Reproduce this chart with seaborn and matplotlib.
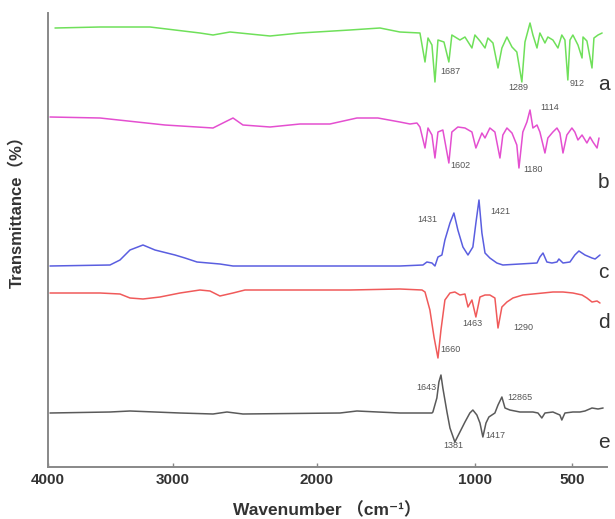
import matplotlib
matplotlib.use('Agg')
import matplotlib.pyplot as plt
import numpy as np
import pandas as pd
import seaborn as sns

# FTIR spectra, stacked (transmittance in arbitrary offset units)
wn_a = [3944, 3584, 3184, 2813, 2722, 2604, 2466, 2326, 2118, 1791, 1601, 1475, 1348, 1316, 1297,
        1272, 1253, 1234, 1196, 1165, 1146, 1095, 1063, 1019, 1000, 974, 948, 933, 907, 881,
        861, 835, 809, 784, 758, 742, 716, 701, 680, 665, 639, 624, 598, 572, 552,
        536, 521, 510, 495, 469, 448, 443, 423, 397, 387, 366, 345]
tr_a = [439, 440, 440, 434, 432, 435, 433, 431, 434, 437, 439, 435, 434, 405, 429,
        422, 385, 427, 425, 405, 432, 427, 430, 419, 432, 426, 419, 429, 424, 399,
        419, 430, 420, 415, 385, 425, 444, 432, 419, 434, 424, 430, 427, 419, 432,
        427, 387, 427, 432, 422, 409, 430, 426, 399, 429, 432, 434]

wn_b = [3984, 3584, 3064, 2722, 2639, 2583, 2514, 2326, 2118, 1918, 1747, 1614, 1475, 1411, 1367,
        1348, 1316, 1297, 1272, 1253, 1234, 1203, 1165, 1146, 1108, 1063, 1019, 995, 964, 948,
        923, 897, 871, 856, 835, 809, 784, 773, 753, 732, 716, 701, 680, 665, 639,
        624, 598, 577, 562, 546, 526, 500, 485, 469, 448, 423, 407, 392, 371, 361]
tr_b = [350, 349, 342, 339, 345, 349, 342, 340, 343, 343, 349, 349, 345, 343, 344,
        340, 319, 339, 332, 309, 335, 337, 304, 335, 340, 339, 335, 319, 334, 329,
        339, 335, 309, 332, 339, 334, 322, 299, 335, 345, 357, 339, 342, 335, 314,
        329, 335, 339, 334, 314, 332, 339, 335, 327, 332, 324, 330, 325, 319, 329]

wn_c = [3984, 3504, 3424, 3344, 3240, 3144, 3080, 2986, 2917, 2833, 2674, 2583, 2118, 1791, 1475,
        1329, 1304, 1272, 1253, 1234, 1209, 1190, 1158, 1133, 1108, 1076, 1044, 1013, 995, 979,
        964, 948, 923, 887, 856, 680, 665, 649, 629, 603, 577, 567, 546, 510, 485,
        464, 433, 397, 381, 356]
tr_c = [201, 202, 207, 217, 222, 217, 215, 212, 209, 205, 203, 201, 201, 201, 201,
        202, 205, 204, 201, 210, 212, 227, 244, 254, 237, 220, 212, 220, 244, 267,
        234, 214, 209, 204, 202, 204, 210, 214, 205, 204, 205, 208, 204, 205, 212,
        216, 212, 209, 208, 212]

wn_d = [3984, 3584, 3424, 3344, 3240, 3104, 2951, 2813, 2743, 2674, 2583, 2500, 2118, 1791, 1475,
        1335, 1316, 1285, 1259, 1234, 1215, 1190, 1158, 1127, 1095, 1063, 1044, 1019, 995, 974,
        948, 923, 897, 881, 861, 835, 804, 753, 701, 649, 598, 546, 495, 448, 423,
        397, 371, 356]
tr_d = [174, 174, 173, 169, 168, 170, 174, 177, 176, 171, 174, 177, 177, 177, 178,
        177, 175, 157, 130, 109, 137, 167, 174, 175, 172, 173, 160, 167, 150, 170,
        172, 172, 169, 139, 160, 165, 169, 172, 173, 174, 175, 175, 174, 172, 169,
        165, 166, 164]

wn_e = [3984, 3504, 3344, 2951, 2722, 2625, 2514, 1854, 1747, 1614, 1475, 1272, 1266, 1241, 1228,
        1215, 1203, 1177, 1158, 1127, 1095, 1063, 1032, 1013, 990, 974, 959, 943, 928, 897,
        881, 861, 845, 820, 768, 701, 675, 655, 639, 598, 562, 552, 536, 495, 459,
        433, 397, 366, 340]
tr_e = [54, 55, 56, 54, 53, 55, 53, 54, 56, 55, 54, 54, 55, 69, 85,
        92, 79, 55, 39, 25, 35, 45, 54, 57, 52, 44, 30, 44, 50, 54,
        62, 70, 59, 57, 55, 55, 54, 49, 54, 55, 52, 47, 54, 55, 55,
        56, 59, 58, 59]

samples = ['a', 'b', 'c', 'd', 'e']
colors = {'a': '#6fe05a', 'b': '#e44fd0', 'c': '#5a5ee0', 'd': '#f05a5a', 'e': '#5a5a5a'}
letter_y = [382, 285, 195, 144, 24]

# peak annotations: text, wavenumber, height, alignment
peak_text = ['1687', '1289', '912', '1602', '1180', '1114', '1431', '1421',
             '1660', '1463', '1290', '1643', '1381', '1417', '12865']
peak_wn = [1222, 778, 510, 1158, 753, 665, 1367, 923, 1222, 1082, 804, 1241, 1203, 948, 835]
peak_y = [395, 380, 384, 302, 297, 360, 247, 255, 117, 144, 139, 79, 21, 32, 69]
peak_ha = ['left', 'center', 'left', 'left', 'left', 'left', 'left', 'left',
           'left', 'left', 'left', 'right', 'left', 'left', 'left']

frames = []
for s, w, t in zip(samples, [wn_a, wn_b, wn_c, wn_d, wn_e], [tr_a, tr_b, tr_c, tr_d, tr_e]):
    frames.append(pd.DataFrame({'wn': w, 'tr': t, 'sample': s}))
df = pd.concat(frames, ignore_index=True)

# the original axis is stretched unevenly, so use a piecewise scale
scale_wn = [300, 500, 1000, 2000, 3000, 4000]
scale_pos = [611, 572, 475, 317, 173, 48]

def fwd(w):
    return -np.interp(w, scale_wn, scale_pos)

def inv(q):
    return np.interp(-np.asarray(q), scale_pos[::-1], scale_wn[::-1])

sns.set_style('ticks')
fig = plt.figure(figsize=(6.15, 5.19), dpi=100)
ax = fig.add_axes([48 / 615, 52 / 519, 559 / 615, 454 / 519])

sns.lineplot(data=df, x='wn', y='tr', hue='sample', palette=colors, estimator=None,
             sort=False, linewidth=1.1, legend=False, ax=ax)

ax.set_xscale('function', functions=(fwd, inv))
ax.set_xlim(4000, 320)
ax.set_ylim(0, 454)
ax.set_xticks([4000, 3000, 2000, 1000, 500])
ax.set_xticklabels(['4000', '3000', '2000', '1000', '500'])
ax.set_yticks([])
ax.minorticks_off()

fam = ['Liberation Sans', 'Noto Sans CJK SC', 'DejaVu Sans']
for lab in ax.get_xticklabels():
    lab.set_family(fam)
    lab.set_fontweight('bold')
    lab.set_fontsize(11)
    lab.set_color('#333333')
ax.tick_params(axis='x', direction='in', length=3, width=1, color='#888888', pad=4)

ax.set_xlabel('Wavenumber （cm⁻¹）', family=fam, fontweight='bold', fontsize=12.5,
              color='#333333', labelpad=11)
ax.set_ylabel('Transmittance（%）', family=fam, fontweight='bold', fontsize=12,
              color='#333333')
ax.yaxis.set_label_coords(-0.04, 0.57)

sns.despine(ax=ax)
for side in ['left', 'bottom']:
    ax.spines[side].set_color('#888888')
    ax.spines[side].set_linewidth(1.4)

for s, yv in zip(samples, letter_y):
    ax.text(338, yv, s, family=fam, fontsize=15, color='#333333', ha='center', va='center')

for txt, w, yv, ha in zip(peak_text, peak_wn, peak_y, peak_ha):
    ax.text(w, yv, txt, family=fam, fontsize=6.5, color='#555555', ha=ha, va='center')

fig.savefig('out.png', dpi=100)
